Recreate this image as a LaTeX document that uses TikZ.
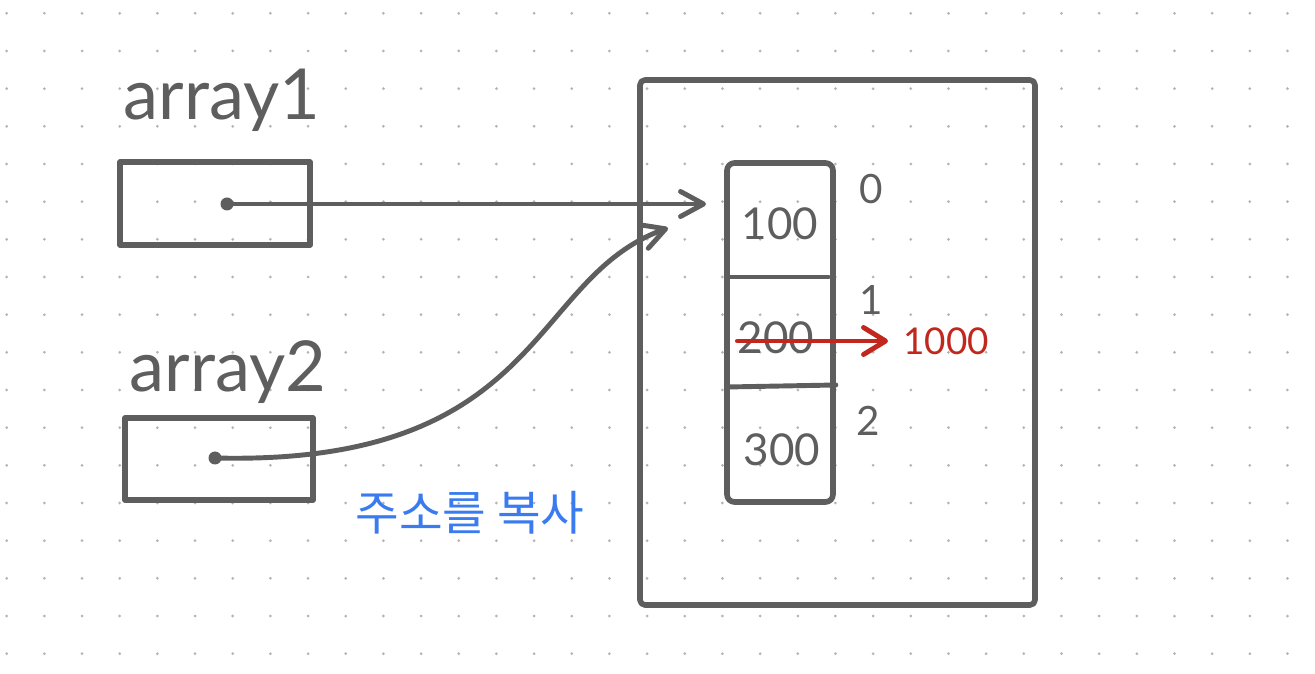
\documentclass[tikz,border=0pt]{standalone}
\usepackage{fontspec}
\setmainfont{Lato}
\newfontfamily\krfont{Noto Sans CJK KR}
\usetikzlibrary{arrows.meta,positioning}
\definecolor{pen}{HTML}{5E5E5E}
\definecolor{penred}{HTML}{C1271D}
\definecolor{penblue}{HTML}{3A7CF0}
\definecolor{griddot}{HTML}{B4B4B4}

\begin{document}
\begin{tikzpicture}[x=0.2mm, y=-0.2mm,
    every node/.style={text=pen},
    ln/.style={draw=pen, line width=3.2pt, line cap=round, line join=round},
    var/.style={ln, rectangle, minimum width=38mm, minimum height=16.6mm, inner sep=0pt},
    cell/.style={font=\fontsize{25}{30}\selectfont, inner sep=0pt},
    idx/.style={font=\fontsize{23}{28}\selectfont, inner sep=0pt},
    nm/.style={font=\fontsize{40}{48}\selectfont, inner sep=0pt},
    e/.style={draw=pen, line width=2.8pt, line cap=round, line join=round,
              -{Straight Barb[length=4.6mm, width=5mm, line cap=round, line join=round]}},
    chg/.style={e, draw=penred,
              -{Straight Barb[length=4.4mm, width=5.4mm, line cap=round, line join=round]}},
  ]
  \fill[white] (0,0) rectangle (1315,674);
  \useasboundingbox (0,0) rectangle (1315,674);
  \foreach \i in {0,...,34}
    \foreach \j in {0,...,17}
      \fill[griddot] (6.7+37.67*\i, 13.3+37.67*\j) circle (0.3mm);

  % variables
  \node[nm] (n1) at (222,100) {array1};
  \node[var] (a1) at (215,203.5) {};
  \node[nm] (n2) at (228,372) {array2};
  \node[var, minimum width=37.6mm, minimum height=16.4mm] (a2) at (219,459) {};
  \fill[pen] (227,204) circle (1.3mm) coordinate (d1);
  \fill[pen] (215,458) circle (1.3mm) coordinate (d2);

  % heap
  \node[ln, rectangle, rounded corners=1mm, minimum width=79mm, minimum height=105mm] (heap) at (837.5,342.5) {};
  \node[ln, rectangle, rounded corners=1.5mm, minimum width=21.2mm, minimum height=67.8mm] (col) at (780,332.5) {};
  \draw[ln, line width=2.8pt] ([xshift=1mm]col.west |- 0,277) -- ([xshift=-1.5mm]col.east |- 0,277);
  \draw[ln, line width=2.8pt] ([xshift=0.5mm]col.west |- 0,387) -- (col.east |- 0,385);
  \node[cell] (v0) at (780,224) {100};
  \node[cell] (v1) at (776,338) {200};
  \node[cell] (v2) at (782,450) {300};
  \node[idx] (i0) at (871,189) {0};
  \node[idx] (i1) at (871,300) {1};
  \node[idx] (i2) at (868,421) {2};
  \node[cell, text=penred, font=\fontsize{21}{25}\selectfont, anchor=west] (nv) at (903,341) {1000};

  \coordinate (p1) at (706,204);
  \coordinate (p2) at (668,228);
  \draw[e] (d1) -- (p1);
  \draw[e] (d2) .. controls +(330,8) and +(-140,50) .. (p2);
  \draw[chg] (v1.west |- nv) -- ([xshift=-3mm]nv.west);

  \node[text=penblue, font=\krfont\fontsize{27}{32}\selectfont, inner sep=0pt] (cp) at (470,513) {주소를 복사};
\end{tikzpicture}
\end{document}
